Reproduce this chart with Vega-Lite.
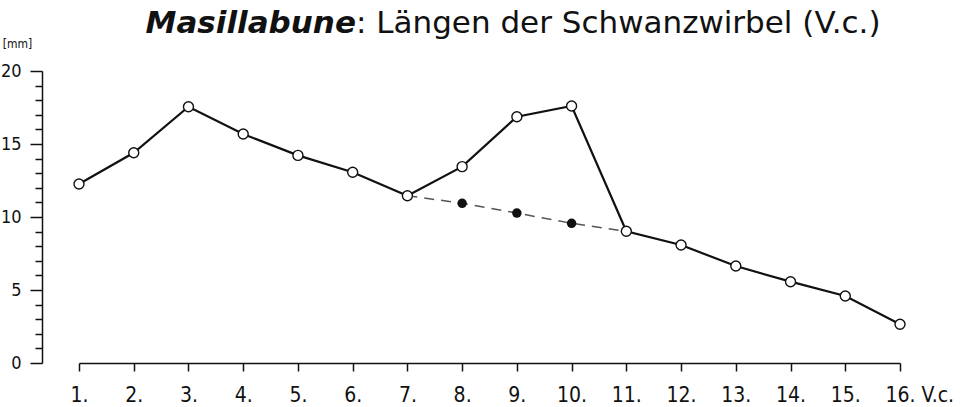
{
  "$schema": "https://vega.github.io/schema/vega-lite/v6.json",
  "width": 821,
  "height": 292,
  "autosize": {"type": "none"},
  "padding": {"left": 79, "top": 71, "right": 64, "bottom": 44},
  "background": "white",
  "config": {
    "view": {"stroke": null},
    "font": "DejaVu Sans",
    "axis": {"grid": false, "domainColor": "#111", "tickColor": "#111", "labelColor": "#111", "titleColor": "#111", "domainWidth": 1.5, "tickWidth": 1.5, "labelFont": "DejaVu Sans Condensed, DejaVu Sans", "titleFont": "DejaVu Sans Condensed, DejaVu Sans"}
  },
  "resolve": {"axis": {"y": "independent"}},
  "datasets": {
    "vert": [
      {"v": 1, "len": 12.26, "series": "obs"},
      {"v": 2, "len": 14.4, "series": "obs"},
      {"v": 3, "len": 17.55, "series": "obs"},
      {"v": 4, "len": 15.68, "series": "obs"},
      {"v": 5, "len": 14.22, "series": "obs"},
      {"v": 6, "len": 13.06, "series": "obs"},
      {"v": 7, "len": 11.46, "series": "obs"},
      {"v": 8, "len": 13.45, "series": "obs"},
      {"v": 9, "len": 16.87, "series": "obs"},
      {"v": 10, "len": 17.6, "series": "obs"},
      {"v": 11, "len": 9.02, "series": "obs"},
      {"v": 12, "len": 8.08, "series": "obs"},
      {"v": 13, "len": 6.64, "series": "obs"},
      {"v": 14, "len": 5.57, "series": "obs"},
      {"v": 15, "len": 4.59, "series": "obs"},
      {"v": 16, "len": 2.65, "series": "obs"},
      {"v": 7, "len": 11.46, "series": "est"},
      {"v": 8, "len": 10.94, "series": "est"},
      {"v": 9, "len": 10.27, "series": "est"},
      {"v": 10, "len": 9.57, "series": "est"},
      {"v": 11, "len": 9.02, "series": "est"}
    ],
    "titleparts": [
      {"part": "bold", "text": "Masillabune", "x": 6.06, "y": 22.6},
      {"part": "plain", "text": ": Längen der Schwanzwirbel (V.c.)", "x": 6.06, "y": 22.6}
    ]
  },
  "layer": [
    {
      "data": {"name": "vert"},
      "transform": [{"filter": "datum.series === 'est'"}],
      "mark": {"type": "line", "color": "#555", "strokeWidth": 1.5, "strokeDash": [10, 7]},
      "encoding": {
        "x": {"field": "v", "type": "quantitative", "scale": {"domain": [1, 16], "nice": false},
          "axis": {"values": [1,2,3,4,5,6,7,8,9,10,11,12,13,14,15,16], "labelExpr": "datum.value + '.'", "labelFlush": false, "labelOverlap": false, "tickSize": 8, "labelFontSize": 21, "labelPadding": 13, "title": "V.c.", "titleFontSize": 21, "titleFontWeight": "normal", "titleX": 842, "titleY": 38, "titleAlign": "left", "titleBaseline": "alphabetic"}},
        "y": {"field": "len", "type": "quantitative", "scale": {"domain": [0, 20], "nice": false},
          "axis": {"orient": "left", "values": [0, 5, 10, 15, 20], "offset": 37, "tickSize": 12, "labelFontSize": 18, "labelPadding": 9,
            "title": "[mm]", "titleAngle": 0, "titleX": -25, "titleY": -24, "titleAlign": "center", "titleBaseline": "alphabetic", "titleFontSize": 12, "titleFontWeight": "normal"}}
      }
    },
    {
      "data": {"name": "vert"},
      "transform": [{"filter": "datum.series === 'obs'"}],
      "mark": {"type": "line", "color": "#111", "strokeWidth": 2.2},
      "encoding": {
        "x": {"field": "v", "type": "quantitative"},
        "y": {"field": "len", "type": "quantitative",
          "axis": {"orient": "left", "values": [1,2,3,4,6,7,8,9,11,12,13,14,16,17,18,19], "offset": 37, "tickSize": 7, "labels": false, "domain": false, "title": null}}
      }
    },
    {
      "data": {"name": "vert"},
      "transform": [{"filter": "datum.series === 'est' && datum.v > 7 && datum.v < 11"}],
      "mark": {"type": "point", "shape": "circle", "filled": true, "color": "#111", "size": 90, "opacity": 1},
      "encoding": {
        "x": {"field": "v", "type": "quantitative"},
        "y": {"field": "len", "type": "quantitative", "axis": null}
      }
    },
    {
      "data": {"name": "vert"},
      "transform": [{"filter": "datum.series === 'obs'"}],
      "mark": {"type": "point", "shape": "circle", "filled": true, "fill": "white", "stroke": "#111", "strokeWidth": 1.4, "size": 100, "opacity": 1},
      "encoding": {
        "x": {"field": "v", "type": "quantitative"},
        "y": {"field": "len", "type": "quantitative", "axis": null}
      }
    },
    {
      "data": {"name": "titleparts"},
      "transform": [{"filter": "datum.part === 'bold'"}],
      "mark": {"type": "text", "align": "right", "baseline": "alphabetic", "fontSize": 31, "fontStyle": "italic", "fontWeight": "bold", "color": "#111"},
      "encoding": {
        "x": {"field": "x", "type": "quantitative"},
        "y": {"field": "y", "type": "quantitative", "axis": null},
        "text": {"field": "text"}
      }
    },
    {
      "data": {"name": "titleparts"},
      "transform": [{"filter": "datum.part === 'plain'"}],
      "mark": {"type": "text", "align": "left", "baseline": "alphabetic", "fontSize": 31, "color": "#111"},
      "encoding": {
        "x": {"field": "x", "type": "quantitative"},
        "y": {"field": "y", "type": "quantitative", "axis": null},
        "text": {"field": "text"}
      }
    }
  ]
}
